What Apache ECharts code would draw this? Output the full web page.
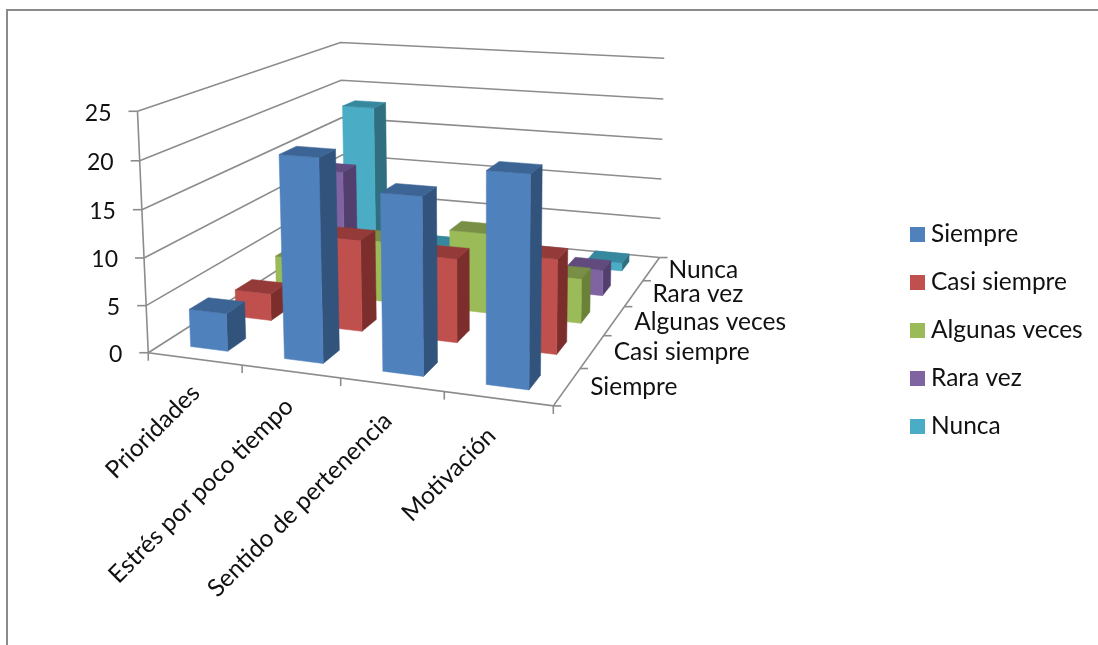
<!DOCTYPE html>
<html>
<head>
<meta charset="utf-8">
<style>html,body{margin:0;padding:0;background:#fff}#chart{width:1098px;height:645px}</style>
<script src="https://cdn.jsdelivr.net/npm/echarts@6/dist/echarts.min.js"></script>
</head>
<body>
<div id="chart"></div>
<script>
// Survey answers per topic, one list per answer frequency
const categories = ['Prioridades', 'Estrés por poco tiempo', 'Sentido de pertenencia', 'Motivación'];
const seriesNames = ['Siempre', 'Casi siempre', 'Algunas veces', 'Rara vez', 'Nunca'];
const siempre = [4, 21, 18, 21];
const casiSiempre = [3, 10, 9, 10];
const algunasVeces = [4, 7, 9, 5];
const raraVez = [12, 0, 0, 3];
const nunca = [18, 1, 0, 1];
const valueTicks = [0, 5, 10, 15, 20, 25];

const seriesValues = [siempre, casiSiempre, algunasVeces, raraVez, nunca];
const faceColors = [
  { front: '#4F81BD', side: '#31537C', top: '#3C6595' },
  { front: '#C0504D', side: '#7C2E2C', top: '#943A38' },
  { front: '#9BBB59', side: '#6A8238', top: '#788F45' },
  { front: '#8064A2', side: '#533F6E', top: '#614A7E' },
  { front: '#4BACC6', side: '#2F6F80', top: '#36889E' }
];
const LABEL_FONT = 'Lato, "Open Sans", sans-serif';
const LABEL_SIZE = 24.5;
const VALUE_LABEL_SIZE = 23;
const LINE_COLOR = '#8C8C8C';

// Camera for the 3D box: unit-cube corners (u along topics, v into depth, h up) and where they appear
const cameraPairs = [
  [0, 0, 0, 149, 352], [1, 0, 0, 553, 407], [1, 1, 0, 660, 256], [0, 1, 0, 343, 229],
  [0, 0, 1, 137, 111], [0, 1, 1, 341, 42], [1, 1, 1, 664, 59]
];

function solveLinear(A, b) {
  const n = b.length;
  const M = A.map((row, i) => row.concat(b[i]));
  for (let c = 0; c < n; c++) {
    let p = c;
    for (let r = c + 1; r < n; r++) if (Math.abs(M[r][c]) > Math.abs(M[p][c])) p = r;
    [M[c], M[p]] = [M[p], M[c]];
    for (let r = 0; r < n; r++) {
      if (r === c) continue;
      const f = M[r][c] / M[c][c];
      for (let k = c; k <= n; k++) M[r][k] -= f * M[c][k];
    }
  }
  return M.map((row, i) => row[n] / row[i]);
}

// Least-squares fit of the 11 projective camera parameters
function fitCamera(pairs) {
  const rows = [], rhs = [];
  pairs.forEach(([u, v, h, x, y]) => {
    const sx = x / 1000, sy = y / 1000;
    rows.push([u, v, h, 1, 0, 0, 0, 0, -sx * u, -sx * v, -sx * h]); rhs.push(sx);
    rows.push([0, 0, 0, 0, u, v, h, 1, -sy * u, -sy * v, -sy * h]); rhs.push(sy);
  });
  const N = Array.from({ length: 11 }, () => new Array(11).fill(0));
  const t = new Array(11).fill(0);
  rows.forEach((r, k) => {
    for (let i = 0; i < 11; i++) {
      t[i] += r[i] * rhs[k];
      for (let j = 0; j < 11; j++) N[i][j] += r[i] * r[j];
    }
  });
  return solveLinear(N, t);
}
const cam = fitCamera(cameraPairs);
function project(u, v, h) {
  const w = cam[8] * u + cam[9] * v + cam[10] * h + 1;
  return [
    1000 * (cam[0] * u + cam[1] * v + cam[2] * h + cam[3]) / w,
    1000 * (cam[4] * u + cam[5] * v + cam[6] * h + cam[7]) / w
  ];
}

const poly = (points, fill) => ({
  type: 'polygon', shape: { points }, style: { fill, stroke: fill, lineWidth: 0.5 }
});
const stroke = (points) => ({
  type: 'polyline', shape: { points }, style: { fill: 'none', stroke: LINE_COLOR, lineWidth: 1.6 }
});
const label = (text, x, y, align, rotation, size) => ({
  type: 'text', x, y, rotation: rotation || 0,
  style: { text, x: 0, y: 0, align, verticalAlign: 'middle', fontSize: size || LABEL_SIZE, fontFamily: LABEL_FONT, fill: '#111' }
});

// Fractions of the scale carried by axis positions from the hidden cartesian grid
const uOf = (api, cs, c) => (api.coord([c, 0])[0] - cs.x) / cs.width;
const hOf = (api, cs, val) => (cs.y + cs.height - api.coord([0, val])[1]) / cs.height;

function renderBar(rowIndex) {
  const colors = faceColors[rowIndex];
  return function (params, api) {
    const cs = params.coordSys;
    const uc = uOf(api, cs, api.value(0));
    const h = hOf(api, cs, api.value(1));
    const halfU = (api.size([1, 0])[0] / cs.width) * 0.2;
    const vc = (rowIndex + 0.5) / seriesNames.length;
    const halfV = (1 / seriesNames.length) * 0.2;
    const u0 = uc - halfU, u1 = uc + halfU, v0 = vc - halfV, v1 = vc + halfV;
    return {
      type: 'group',
      children: [
        poly([project(u1, v0, 0), project(u1, v1, 0), project(u1, v1, h), project(u1, v0, h)], colors.side),
        poly([project(u0, v0, 0), project(u1, v0, 0), project(u1, v0, h), project(u0, v0, h)], colors.front),
        poly([project(u0, v0, h), project(u1, v0, h), project(u1, v1, h), project(u0, v1, h)], colors.top)
      ]
    };
  };
}

// Wall gridlines, value ticks and value labels
function renderValueTick(params, api) {
  const cs = params.coordSys;
  const val = api.value(1);
  const h = hOf(api, cs, val);
  const a = project(0, 0, h);
  return {
    type: 'group',
    children: [
      stroke([a, project(0, 1, h), project(1, 1, h)]),
      stroke([a, [a[0] - 9, a[1]]]),
      label(String(val), a[0] - 26, a[1] + 2, 'right', 0, VALUE_LABEL_SIZE)
    ]
  };
}

// Floor edges with the ticks that separate the topics and the depth rows
function renderFloor() {
  const children = [
    stroke([project(0, 0, 1), project(0, 0, 0), project(1, 0, 0), project(1, 1, 0)])
  ];
  for (let i = 0; i <= categories.length; i++) {
    const p = project(i / categories.length, 0, 0);
    children.push(stroke([p, [p[0], p[1] + 8]]));
  }
  for (let i = 0; i <= seriesNames.length; i++) {
    const p = project(1, i / seriesNames.length, 0);
    children.push(stroke([p, [p[0] + 8, p[1]]]));
  }
  return { type: 'group', children };
}

function renderCategoryLabel(params, api) {
  const cs = params.coordSys;
  const c = api.value(0);
  const p = project(uOf(api, cs, c), 0, 0);
  return label(categories[c], p[0] + 1 - 2.5 * c, p[1] + 30 + c, 'right', Math.PI / 4);
}

function renderDepthLabel(params, api) {
  const cs = params.coordSys;
  const row = api.value(0);
  const p = project(1, uOf(api, cs, row), 0);
  return label(seriesNames[row], p[0] + 23 - row * 1.5, p[1] + 1, 'left');
}

const barSeries = seriesNames.map((name, i) => ({
  type: 'custom',
  name,
  z: 20 - i,
  silent: true,
  itemStyle: { color: faceColors[i].front },
  renderItem: renderBar(i),
  encode: { x: 0, y: 1 },
  data: seriesValues[i].map((v, c) => [c, v])
}));

const option = {
  animation: false,
  backgroundColor: '#fff',
  grid: { left: 0, top: 0, width: 1000, height: 500 },
  xAxis: [
    { type: 'category', data: categories, show: false },
    { type: 'category', data: seriesNames, show: false }
  ],
  yAxis: { type: 'value', min: 0, max: 25, interval: 5, show: false },
  legend: {
    orient: 'vertical', left: 910, top: 222, padding: 0, itemWidth: 15, itemHeight: 15, itemGap: 23,
    icon: 'rect', data: seriesNames, selectedMode: false,
    textStyle: { fontSize: LABEL_SIZE, lineHeight: 22, fontFamily: LABEL_FONT, color: '#111', padding: [0, 0, 0, 1] }
  },
  graphic: [
    { type: 'rect', z: 0, shape: { x: 6, y: 9, width: 1092, height: 2 }, style: { fill: '#8A8A8A' } },
    { type: 'rect', z: 0, shape: { x: 6, y: 9, width: 2, height: 636 }, style: { fill: '#8A8A8A' } }
  ],
  series: [
    {
      type: 'custom', name: 'walls', z: 1, silent: true, renderItem: renderValueTick,
      encode: { x: 0, y: 1 }, data: valueTicks.map((v) => [0, v])
    },
    {
      type: 'custom', name: 'floor', z: 2, silent: true, renderItem: renderFloor,
      encode: { x: 0, y: 1 }, data: [[0, 0]]
    },
    {
      type: 'custom', name: 'topics', z: 3, silent: true, renderItem: renderCategoryLabel,
      encode: { x: 0, y: 1 }, data: categories.map((_, c) => [c, 0])
    },
    {
      type: 'custom', name: 'rows', z: 3, silent: true, xAxisIndex: 1, renderItem: renderDepthLabel,
      encode: { x: 0, y: 1 }, data: seriesNames.map((_, c) => [c, 0])
    }
  ].concat(barSeries)
};

const chart = echarts.init(document.getElementById('chart'));
chart.setOption(option);
</script>
</body>
</html>
